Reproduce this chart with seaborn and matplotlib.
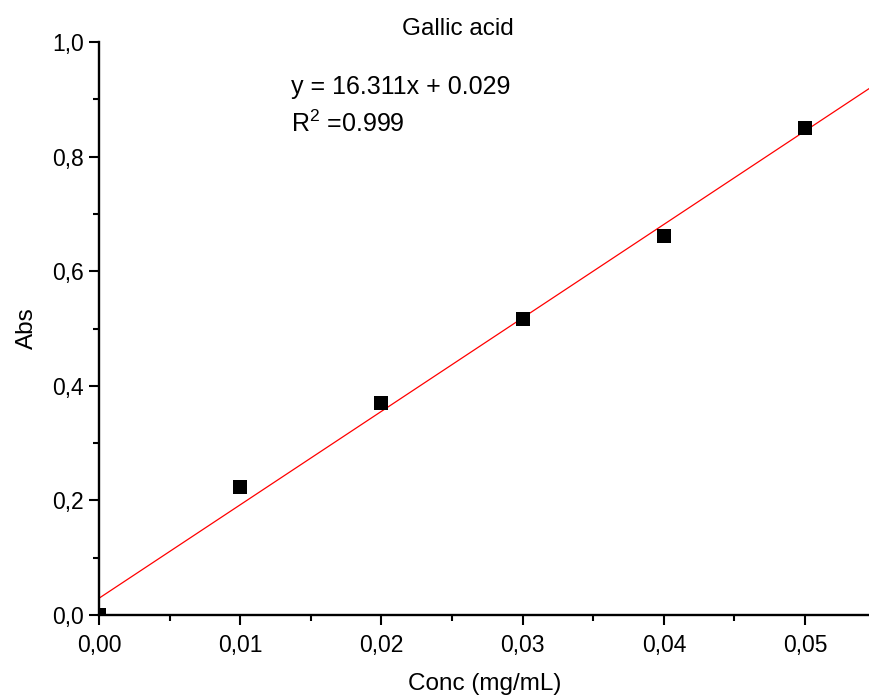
import matplotlib
matplotlib.use('Agg')
import matplotlib.pyplot as plt
import matplotlib.ticker as mticker
import seaborn as sns
import pandas as pd

conc = [0.00, 0.01, 0.02, 0.03, 0.04, 0.05]
absorb = [0.000, 0.224, 0.370, 0.517, 0.661, 0.850]
equation = 'y = 16.311x + 0.029'
r2_text = 'R$^2$ =0.999'

sns.set_style('ticks')
plt.rcParams['font.family'] = ['Liberation Sans', 'DejaVu Sans']
plt.rcParams['mathtext.fontset'] = 'custom'
plt.rcParams['mathtext.rm'] = 'Liberation Sans'
plt.rcParams['text.color'] = 'black'
plt.rcParams['axes.labelcolor'] = 'black'
plt.rcParams['xtick.color'] = 'black'
plt.rcParams['ytick.color'] = 'black'

df = pd.DataFrame({'Conc': conc, 'Abs': absorb})

fig = plt.figure(figsize=(8.7, 7), dpi=100)
ax = fig.add_axes([0.1138, 0.1214, 0.8862, 0.8186])
ax.set_xlim(0, 0.0546)
ax.set_ylim(0, 1.0)

sns.regplot(x='Conc', y='Abs', data=df, ax=ax, scatter=False, ci=None,
            truncate=False, line_kws={'color': 'red', 'lw': 0.9})
sns.scatterplot(x='Conc', y='Abs', data=df, ax=ax, marker='s', s=90,
                color='black', edgecolor='black', linewidth=0, zorder=3)
ax.set_xlim(0, 0.0546)
ax.set_ylim(0, 1.0)

ax.xaxis.set_major_locator(mticker.MultipleLocator(0.01))
ax.xaxis.set_minor_locator(mticker.MultipleLocator(0.005))
ax.yaxis.set_major_locator(mticker.MultipleLocator(0.2))
ax.yaxis.set_minor_locator(mticker.MultipleLocator(0.1))
ax.xaxis.set_major_formatter(mticker.FuncFormatter(lambda v, p: f'{v:.2f}'.replace('.', ',')))
ax.yaxis.set_major_formatter(mticker.FuncFormatter(lambda v, p: f'{v:.1f}'.replace('.', ',')))

ax.tick_params(which='major', direction='out', length=7, width=1.5, labelsize=16.5)
ax.tick_params(axis='x', which='major', pad=7)
ax.tick_params(axis='y', which='major', pad=4)
ax.tick_params(which='minor', direction='out', length=4, width=1.5)
for side in ['top', 'right']:
    ax.spines[side].set_visible(False)
for side in ['left', 'bottom']:
    ax.spines[side].set_linewidth(1.7)
    ax.spines[side].set_color('black')

ax.set_xlabel('Conc (mg/mL)', fontsize=17.5, labelpad=11)
ax.set_ylabel('Abs', fontsize=17.5, labelpad=10)
fig.text(0.526, 0.958, 'Gallic acid', ha='center', va='center', fontsize=17.5)
ax.text(0.0136, 0.922, equation, fontsize=18, va='center')
ax.text(0.0136, 0.858, r2_text, fontsize=18, va='center')

fig.savefig('out.png', dpi=100)
